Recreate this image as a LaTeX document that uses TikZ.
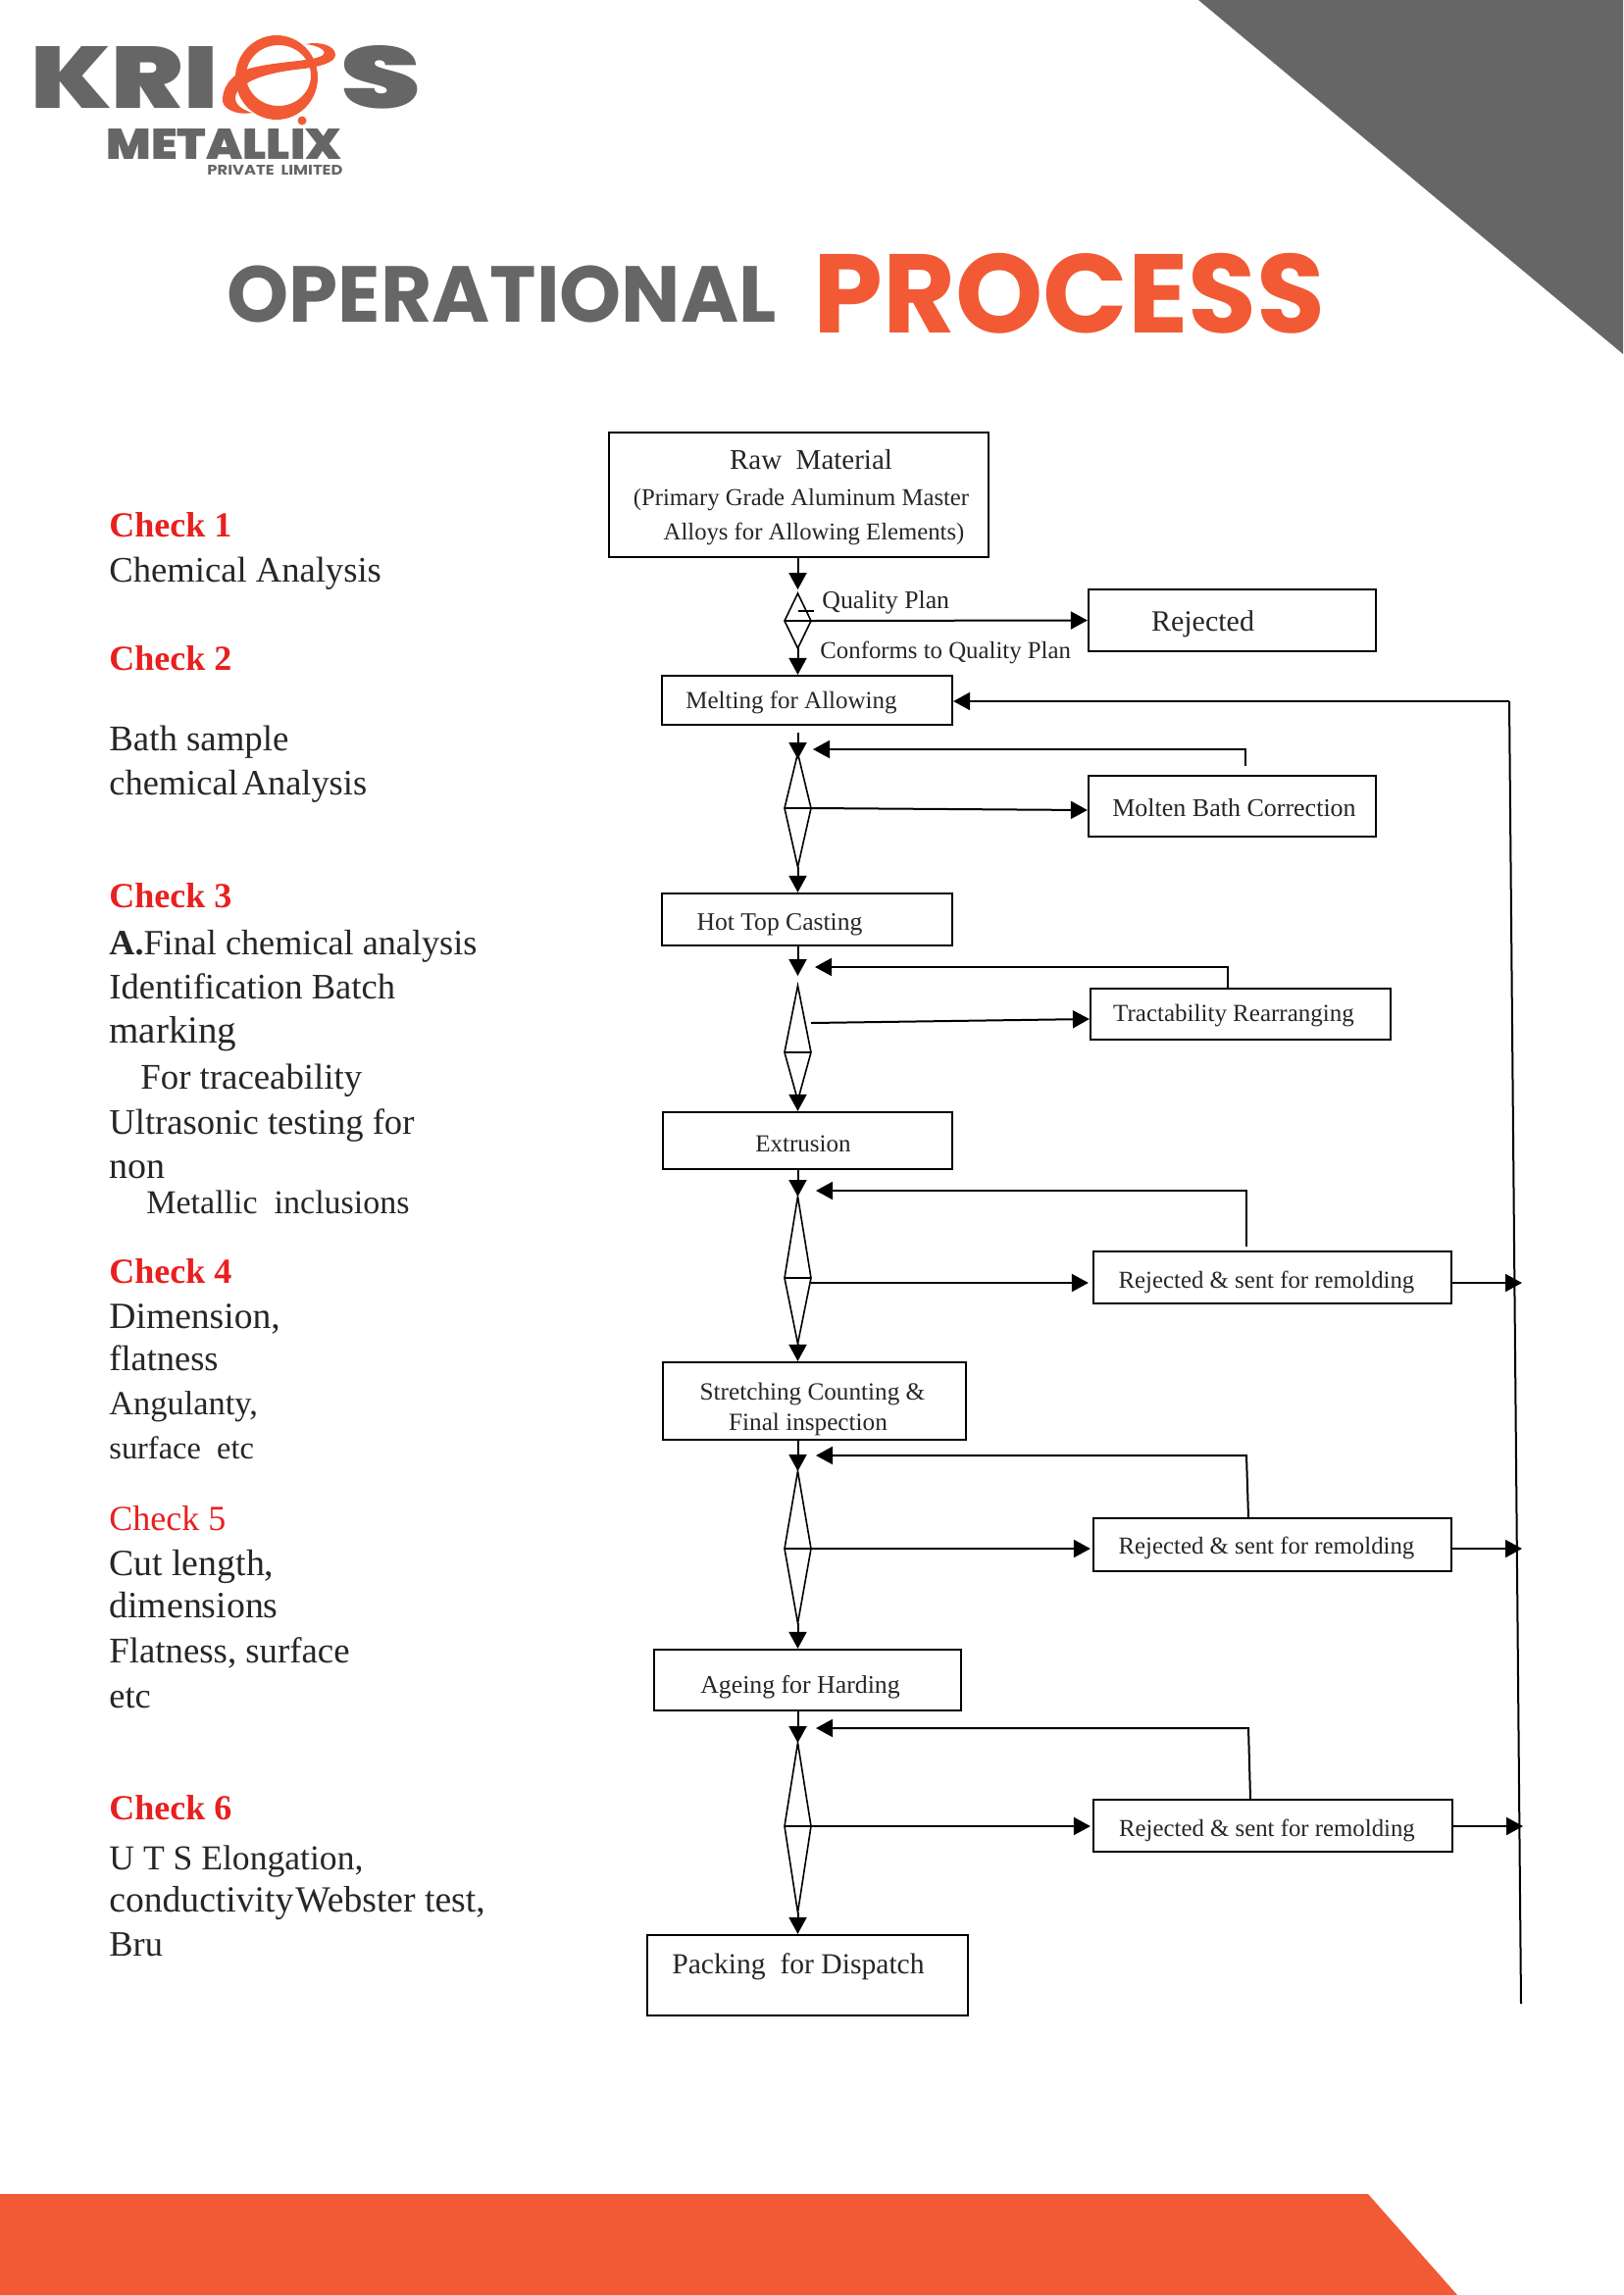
\documentclass[tikz,border=0pt]{standalone}
\usepackage{fontspec}
\usepackage{graphicx}
\setmainfont{Liberation Serif}
\newfontfamily\popbold{Poppins}
\newfontfamily\logofont{Poppins Black}
\usetikzlibrary{arrows.meta}
\definecolor{krgray}{HTML}{666666}
\definecolor{krorange}{HTML}{F15A34}
\definecolor{krred}{HTML}{E8201F}
\tikzset{
  x=0.5pt,y=-0.5pt,
  flowbox/.style={draw=black,line width=1.1pt,inner sep=0pt,text=black!85,font=\fontsize{12.5pt}{16pt}\selectfont},
  decide/.style={draw=black,line width=0.8pt,fill=white},
  arr/.style={line width=1pt,-{Triangle[length=8.5pt,width=9pt]}},
  plainline/.style={line width=1pt},
  chk/.style={anchor=base west,inner sep=0pt,text=krred,font=\fontsize{18pt}{20pt}\selectfont\bfseries},
  chklight/.style={anchor=base west,inner sep=0pt,text=krred,font=\fontsize{18pt}{20pt}\selectfont},
  side/.style={anchor=base west,inner sep=0pt,text=black!85,font=\fontsize{#1}{20pt}\selectfont},
  side/.default=18.2pt,
  flowlabel/.style={anchor=base west,inner sep=0pt,text=black!85,font=\fontsize{12.4pt}{14pt}\selectfont},
}
\newlength\pxu \setlength\pxu{0.5pt}
% text inside a box: x offset of its centre and y offset of its baseline from the box centre, in reference pixels
\newcommand\lbl[3]{\raisebox{-#2\pxu}[0pt][0pt]{\hbox to 0pt{\kern#1\pxu\hbox to 0pt{\hss#3\hss}\hss}}}
\newcommand\flowrect[6]{\node[flowbox,minimum width={(#4-#2)*0.5pt},minimum height={(#5-#3)*0.5pt}] (#1) at ({(#2+#4)/2},{(#3+#5)/2}) {#6};}
\newcommand\decision[4]{%
  \coordinate (#1n) at (813.5,#2); \coordinate (#1e) at (827,#3); \coordinate (#1s) at (813.5,#4); \coordinate (#1w) at (800,#3);
  \draw[decide] (#1n) -- (#1e) -- (#1s) -- (#1w) -- cycle; \draw[line width=0.8pt] (#1w) -- (#1e);}
\begin{document}
\begin{tikzpicture}
\useasboundingbox (0,0) rectangle (1655,2340);
\fill[white] (0,0) rectangle (1655,2340);
% page decoration
\fill[krgray] (1222,0) -- (1655,0) -- (1655,361) -- cycle;
\fill[krorange] (0,2237) -- (1395,2237) -- (1486,2340) -- (0,2340) -- cycle;
% logo
\node[anchor=south west,inner sep=0pt,text=krgray] (logoK) at (31,111) {\resizebox{95.5pt}{31.5pt}{\logofont KRI}};
\node[anchor=south west,inner sep=0pt,text=krgray] (logoS) at (347,112) {\resizebox{41pt}{32pt}{\logofont S}};
\node[anchor=south west,inner sep=0pt,text=krgray] (logoM) at (108,163) {\resizebox{120pt}{15.5pt}{\logofont METALLIX}};
\node[anchor=south west,inner sep=0pt,text=krgray] (logoP) at (211,179) {\resizebox{69pt}{5pt}{\popbold\bfseries PRIVATE\ \ LIMITED}};
\fill[krorange,even odd rule] (282,79) ellipse [x radius=42,y radius=43] (284,77) ellipse [x radius=33,y radius=31];
\fill[krorange] (257,115) .. controls (240,118) and (225,110) .. (227,100) .. controls (228,85) and (240,72) .. (262,68)
  .. controls (280,64) and (300,63) .. (318,60) .. controls (328,58) and (335,55) .. (328,50)
  .. controls (324,47) and (318,46) .. (312,45) .. controls (325,42) and (342,46) .. (342,56)
  .. controls (342,64) and (325,68) .. (310,70) .. controls (290,72) and (265,76) .. (250,86)
  .. controls (236,95) and (235,108) .. (257,115) -- cycle;
\fill[krorange] (308,123) circle [radius=4.5];
% title
\node[anchor=base west,inner sep=0pt,text=krgray] (title1) at (231,328) {\resizebox{280pt}{28.8pt}{\popbold\bfseries OPERATIONAL}};
\node[anchor=base west,inner sep=0pt,text=krorange] (title2) at (829,339.5) {\resizebox{261pt}{40.6pt}{\popbold\bfseries PROCESS}};
% left column
\node[chk] (c1) at (111,547) {Check 1};
\node[side=18.3pt] (c1a) at (111,593) {Chemical Analysis};
\node[chk] (c2) at (111,683) {Check 2};
\node[side=18.4pt] (c2a) at (111,765) {Bath sample};
\node[side] (c2b) at (111,810) {chemical\hspace{2pt}Analysis};
\node[chk] (c3) at (111,925) {Check 3};
\node[side=18.1pt] (c3a) at (111,973) {\textbf{A.}Final chemical analysis};
\node[side=18.3pt] (c3b) at (111,1018) {Identification Batch};
\node[side=19.5pt] (c3c) at (111,1063) {marking};
\node[side=18.4pt] (c3d) at (143,1110) {For traceability};
\node[side=18.3pt] (c3e) at (111,1156) {Ultrasonic testing for};
\node[side=19pt] (c3f) at (111,1201) {non};
\node[side=17pt] (c3g) at (149,1237) {Metallic\ \ inclusions};
\node[chk] (c4) at (111,1308) {Check 4};
\node[side=18.8pt] (c4a) at (111,1354) {Dimension,};
\node[side] (c4b) at (111,1397) {flatness};
\node[side=17.2pt] (c4c) at (111,1442) {Angulanty,};
\node[side=16.2pt] (c4d) at (111,1487) {surface\ \ etc};
\node[chklight] (c5) at (111,1560) {Check 5};
\node[side=18.9pt] (c5a) at (111,1606) {Cut length,};
\node[side=18.9pt] (c5b) at (111,1649) {dimensions};
\node[side=18.4pt] (c5c) at (111,1695) {Flatness, surface};
\node[side] (c5d) at (111,1741) {etc};
\node[chk] (c6) at (111,1855) {Check 6};
\node[side=17.8pt] (c6a) at (111,1906) {U T S Elongation,};
\node[side=18.8pt] (c6b) at (111,1949) {conductivity\hspace{1pt}Webster test,};
\node[side] (c6c) at (111,1994) {Bru};
% boxes
\flowrect{raw}{621}{441}{1008}{568}{\fontsize{14.5pt}{18pt}\selectfont\lbl{12.5}{-26.5}{Raw\ \ Material}\fontsize{12.35pt}{18pt}\selectfont\lbl{2.5}{10.5}{(Primary Grade Aluminum Master}\lbl{15.5}{45.5}{Alloys for Allowing Elements)}}
\flowrect{rej}{1110}{601}{1403}{664}{\fontsize{15pt}{18pt}\selectfont\lbl{-30}{10.5}{Rejected}}
\flowrect{melt}{675}{689}{971}{739}{\lbl{-16}{8}{Melting for Allowing}}
\flowrect{mol}{1110}{791}{1403}{853}{\fontsize{13pt}{16pt}\selectfont\lbl{2}{10}{Molten Bath Correction}}
\flowrect{hot}{675}{911}{971}{964}{\fontsize{12.8pt}{16pt}\selectfont\lbl{-28}{10.5}{Hot Top Casting}}
\flowrect{tra}{1112}{1008}{1418}{1060}{\lbl{-7}{7}{Tractability Rearranging}}
\flowrect{ext}{676}{1134}{971}{1192}{\lbl{-4.5}{11}{Extrusion}}
\flowrect{rj1}{1115}{1276}{1480}{1329}{\fontsize{12.4pt}{16pt}\selectfont\lbl{-6}{10.5}{Rejected \& sent for remolding}}
\flowrect{str}{676}{1389}{985}{1468}{\fontsize{12.6pt}{16pt}\selectfont\lbl{-2}{-1.5}{Stretching Counting \&}\lbl{-6.5}{29.5}{Final inspection}}
\flowrect{rj2}{1115}{1548}{1480}{1602}{\fontsize{12.4pt}{16pt}\selectfont\lbl{-6}{9}{Rejected \& sent for remolding}}
\flowrect{age}{667}{1682}{980}{1744}{\fontsize{12.9pt}{16pt}\selectfont\lbl{-7.5}{13}{Ageing for Harding}}
\flowrect{rj3}{1115}{1835}{1481}{1888}{\fontsize{12.4pt}{16pt}\selectfont\lbl{-6}{10.5}{Rejected \& sent for remolding}}
\flowrect{pack}{660}{1973}{987}{2055}{\fontsize{14.8pt}{18pt}\selectfont\lbl{-9.5}{-2}{Packing\ \ for\ Dispatch}}
% decisions
\decision{d1}{605}{633}{661}
\decision{d2}{768}{824}{884}
\decision{d3}{1005}{1073}{1122}
\decision{d4}{1220}{1303}{1370}
\decision{d5}{1500}{1579}{1655}
\decision{d6}{1777}{1862}{1950}
% return line
\coordinate (rtop) at (1539,715);
\coordinate (rbot) at (1551,2043);
\draw[plainline] (rbot) -- (rtop);
\draw[arr] (rtop) -- (melt.east |- rtop);
% labels
\node[flowlabel,font=\fontsize{12.9pt}{14pt}\selectfont] (lq) at (838,620) {Quality Plan};
\node[flowlabel] (lc) at (836,671) {Conforms to Quality Plan};
% flow
\draw[arr] (raw.south -| d1n) -- ++(0,32);
\draw[plainline] (814,623) -- (830,623);
\draw[arr] (d1e) -- (rej.west);
\draw[arr] (d1s) -- (melt.north -| d1s);
\draw[arr,shorten >=-3pt] (melt.south -| d2n) ++(0,7) -- (d2n);
\draw[arr] (d2e) -- (mol.west |- 0,826);
\draw[arr] (d2s) -- (hot.north -| d2s);
\draw[arr,shorten >=5pt] (hot.south -| d3n) -- (d3n);
\draw[arr] (827,1043) -- (tra.west |- 0,1039);
\draw[arr] (d3s) -- (ext.north -| d3s);
\draw[arr] (ext.south -| d4n) -- (d4n);
\draw[arr,shorten >=2pt] (827,1308) -- (rj1.west |- 0,1308);
\draw[arr] (d4s) -- (str.north -| d4s);
\draw[arr] (str.south -| d5n) -- (d5n);
\draw[arr,shorten >=1pt] (d5e) -- (rj2.west |- d5e);
\draw[arr] (d5s) -- (age.north -| d5s);
\draw[arr] (age.south -| d6n) -- (d6n);
\draw[arr,shorten >=1pt] (d6e) -- (rj3.west |- d6e);
\draw[arr] (d6s) -- (pack.north -| d6s);
% feedback
\coordinate (f2) at (829,764); \coordinate (f3) at (831,986); \coordinate (f4) at (832,1214); \coordinate (f5) at (832,1484); \coordinate (f6) at (832,1762);
\draw[arr] (1270,781) -- (1270,764) -- (f2);
\draw[arr] (tra.north -| 1252,0) -- (1252,986) -- (f3);
\draw[arr] (1271,1271) -- (1271,1214) -- (f4);
\draw[arr] (rj2.north -| 1273,0) -- (1271,1484) -- (f5);
\draw[arr] (rj3.north -| 1275,0) -- (1273,1762) -- (f6);
% to return line
\draw[arr] (rj1.east |- 0,1308) -- (1552,1308);
\draw[arr] (rj2.east |- 0,1579) -- (1552,1579);
\draw[arr] (rj3.east |- 0,1862) -- (1553,1862);
\end{tikzpicture}
\end{document}
